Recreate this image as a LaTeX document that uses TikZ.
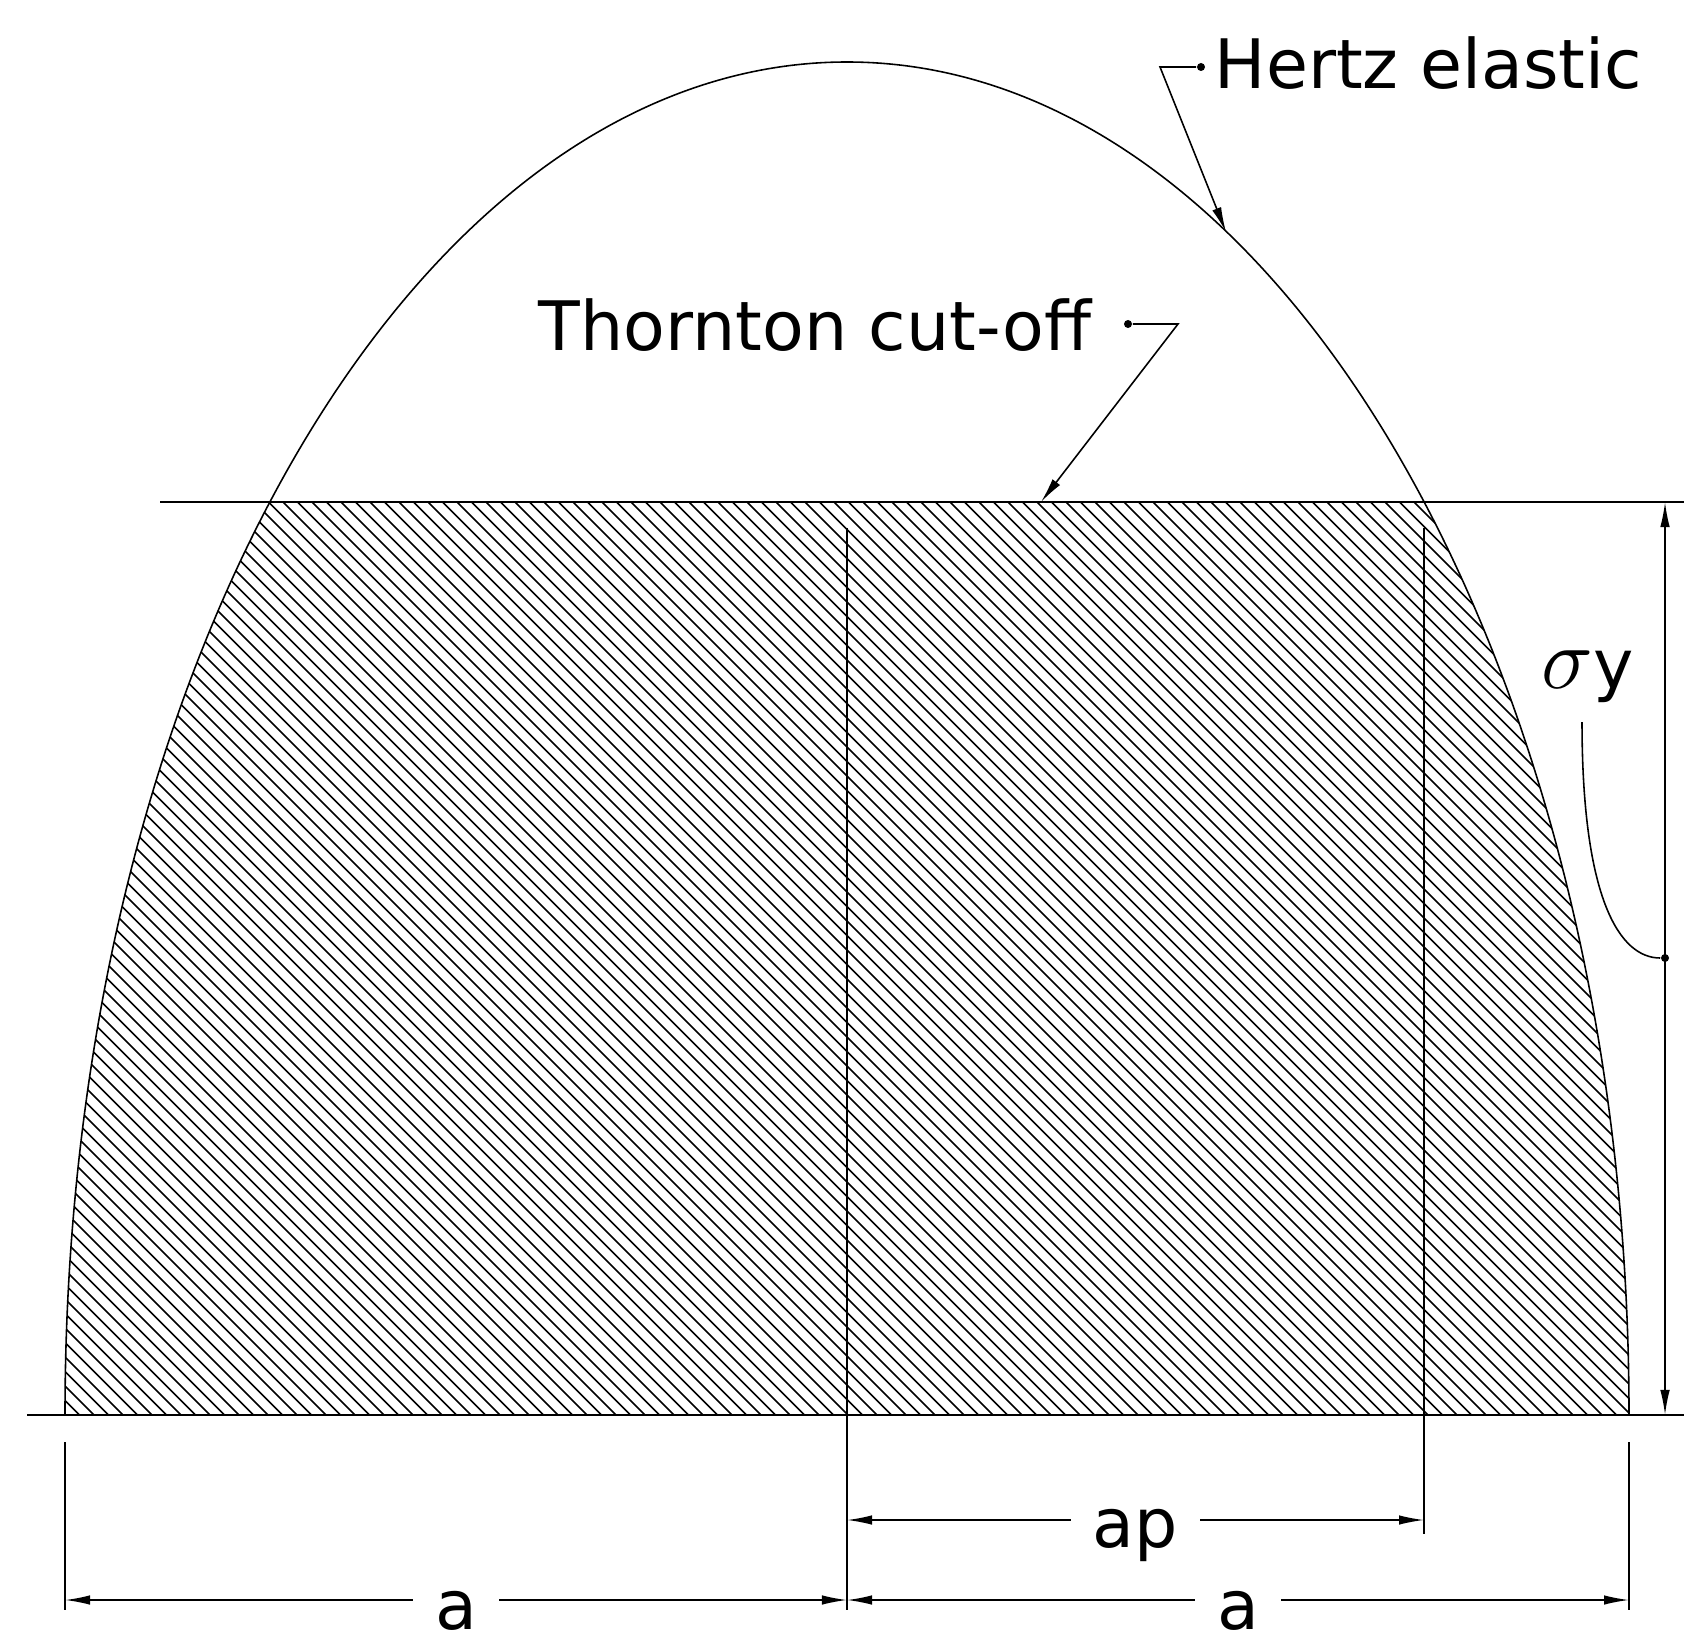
\documentclass[tikz,border=0pt]{standalone}
\usepackage{fontspec}
\setmainfont{DejaVu Sans}
\usetikzlibrary{arrows.meta}
\begin{document}
\begin{tikzpicture}[x=0.01cm, y=0.01cm, line width=0.45pt,
  >={Latex[length=0.25cm,width=0.095cm]},
  font=\fontsize{19.4pt}{23pt}\selectfont,
  hatch/.style={line width=0.45pt},
  dot/.style={circle, fill, inner sep=0pt, minimum size=0.08cm},
  lbl/.style={inner sep=0pt, anchor=base west},
  dimlbl/.style={fill=white, inner xsep=0.22cm, inner ysep=0pt, anchor=base}]
\useasboundingbox (0,0) rectangle (1706,1650);
% hatched part below the cut-off
\begin{scope}
\clip (0,235) rectangle (1706,1148);
\clip (847,235) ellipse [x radius=782, y radius=1353];
\foreach \c in {300,314.5,...,2790}
  \draw[hatch] ({\c-1160},1160) -- ({\c-220},220);
\end{scope}
%
\draw (65,235) arc[start angle=180, end angle=0, x radius=782, y radius=1353];
\draw (27,235) coordinate(baseL) -- (1684,235) coordinate(baseR);
\draw (160,1148) coordinate(cutL) -- (1684,1148) coordinate(cutR);
%
\draw (847,1122) coordinate(midT) -- (847,40) coordinate(midB);
\draw (1424,1122) coordinate(apT) -- (1424,116) coordinate(apB);
\draw (65,208) coordinate(extL) -- (65,40);
\draw (1629,208) coordinate(extR) -- (1629,40);
%
\coordinate (apL) at (847,130);
\coordinate (apR) at (1424,130);
\draw[<->] (apL) -- (apR);
\node[dimlbl] (aplbl) at (1135.5,103) {ap};
%
\coordinate (aL) at (65,50);
\coordinate (aM) at (847,50);
\coordinate (aR) at (1629,50);
\draw[<->] (aL) -- (aM);
\draw[<->] (aM) -- (aR);
\node[dimlbl] (alblL) at (456,21) {a};
\node[dimlbl] (alblR) at (1238,21) {a};
%
\coordinate (syB) at (1665,235);
\coordinate (syT) at (1665,1148);
\draw[<->] (syB) -- (syT);
\node[dot] (sydot) at (1665,692) {};
\node (sy) at (1588,973) {{\fontsize{26pt}{30pt}\selectfont$\sigma$}y};
\coordinate (syS) at (1582,928);
\draw (syS) .. controls (1582,750) and (1620,692) .. (sydot);
%
\node[lbl] (hertz) at (1214,1561) {Hertz elastic};
\node[dot] (hdot) at (1201,1583) {};
\coordinate (hknee) at (1160,1583);
\coordinate (htip) at (1226,1418);
\draw[->] (hdot) -- (hknee) -- (htip);
%
\node[lbl] (thornton) at (538,1299) {Thornton cut-off};
\node[dot] (tdot) at (1128,1326) {};
\coordinate (tknee) at (1178,1326);
\coordinate (ttip) at (1041,1148);
\draw[->] (tdot) -- (tknee) -- (ttip);
\end{tikzpicture}
\end{document}
